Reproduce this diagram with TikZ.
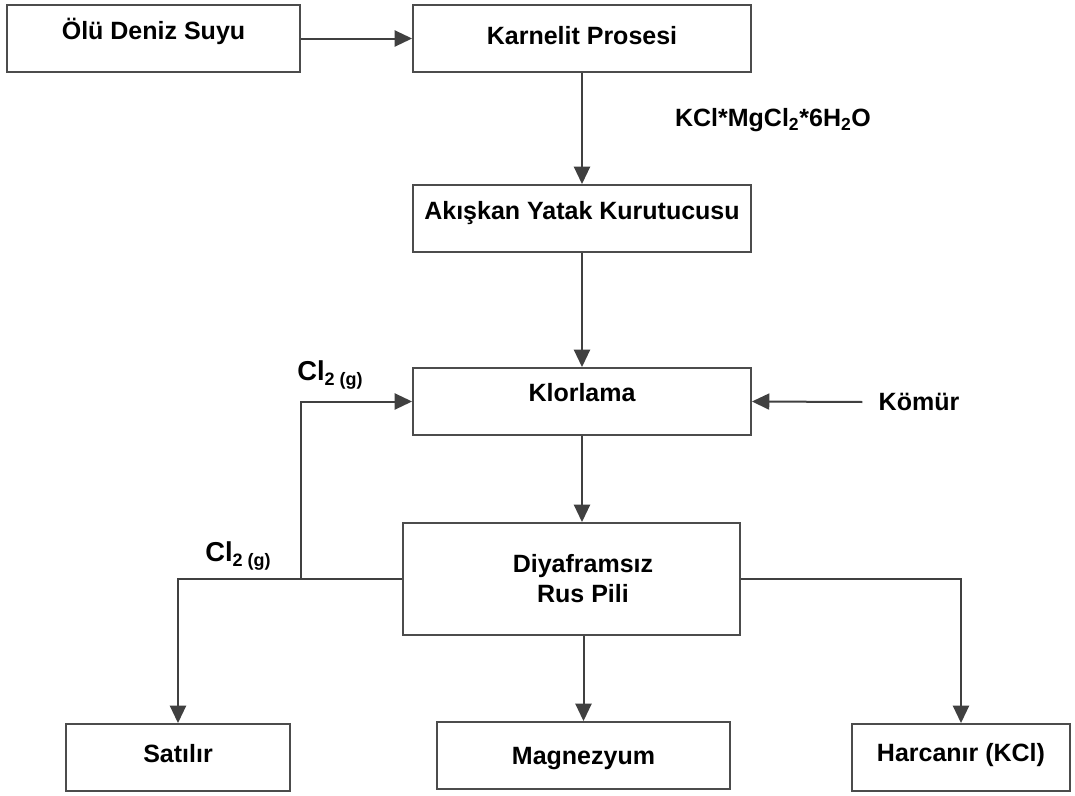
\documentclass[tikz,border=0pt]{standalone}
\usepackage{fontspec}
\setmainfont{Liberation Sans}
\usetikzlibrary{arrows.meta}
\begin{document}
\begin{tikzpicture}[x=0.75pt,y=-0.75pt,
  every node/.style={font=\fontsize{18.75}{22.5}\selectfont\bfseries, text=black},
  box/.style={draw=black!70, line width=1.4pt, inner sep=0pt, text height=13.4pt, minimum height=50.25pt},
  conn/.style={draw=black!75, line width=1.5pt},
  arr/.style={conn, -{Triangle[width=12pt,length=13pt]}},
  biglbl/.style={inner sep=0pt, anchor=base west},
]
\useasboundingbox[fill=white] (0,0) rectangle (1075,796);

% boxes
\node[box, minimum width=219.75pt, text depth=11.25pt] (olu)  at (153.5,38.5) {Ölü Deniz Suyu};
\node[box, minimum width=253.5pt,  text depth=4.5pt]   (karn) at (582,38.5)   {Karnelit Prosesi};
\node[box, minimum width=253.5pt,  text depth=11.25pt] (akis) at (582,218.5)  {Akışkan Yatak Kurutucusu};
\node[box, minimum width=253.5pt,  text depth=12.75pt] (klor) at (582,401.5)  {Klorlama};
\node[box, minimum width=252.75pt, minimum height=84pt] (diya) at (571.5,579) {};
\node[align=center, inner sep=0pt] (diyat) at (583,579) {Diyaframsız\\Rus Pili};
\node[box, minimum width=168pt,    text depth=6pt]     (sat)  at (178,757.5)  {Satılır};
\node[box, minimum width=219.75pt, text depth=0pt]     (mag)  at (583.5,755.5) {Magnezyum};
\node[box, minimum width=163.5pt,  text depth=7.5pt]   (harc) at (961,757.5)  {Harcanır (KCl)};

% free labels
\node[inner sep=0pt] (kcl) at (773,120) {KCl*MgCl\textsubscript{2}*6H\textsubscript{2}O};
\node[inner xsep=12pt, inner ysep=0pt] (kom) at (919,402) {Kömür};
\node[biglbl] (cla) at (297,380) {{\fontsize{20.5}{24}\selectfont Cl}\raisebox{-3.8pt}{\fontsize{13.5}{16}\selectfont 2 (g)}};
\node[biglbl] (clb) at (205,561) {{\fontsize{20.5}{24}\selectfont Cl}\raisebox{-3.8pt}{\fontsize{13.5}{16}\selectfont 2 (g)}};

% connectors
\draw[arr] (olu.east) -- (karn.west);
\draw[arr] (karn.south) -- (akis.north);
\draw[arr] (akis.south) -- (klor.north);
\draw[arr] (klor.south) -- (klor.south |- diya.north);
\draw[arr] (kom.west) -- (klor.east);
\draw[arr] (diya.west) -| (sat.north);
\coordinate (j) at (301,579);
\draw[arr] (j) |- (klor.west);
\draw[arr] (diya.east) -| (harc.north);
\draw[arr] (mag.north |- diya.south) -- (mag.north);
\end{tikzpicture}
\end{document}
